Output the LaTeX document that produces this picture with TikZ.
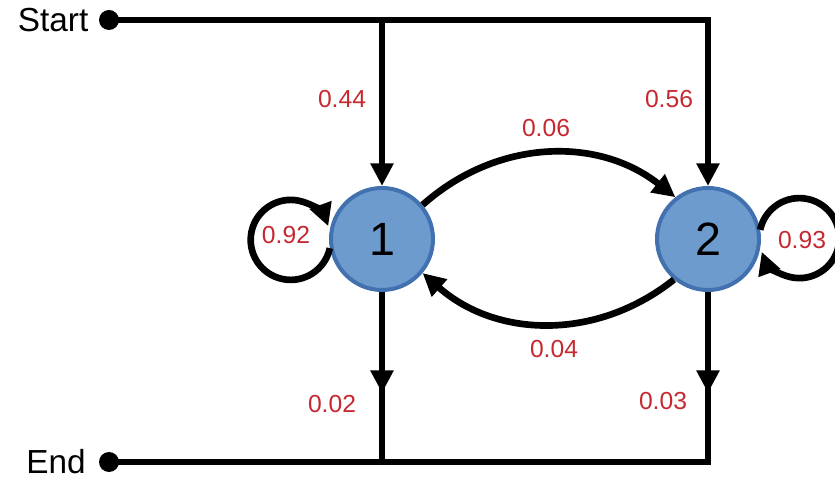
\documentclass[tikz,border=0pt]{standalone}
\usepackage{fontspec}
\setmainfont{Liberation Sans}
\usetikzlibrary{arrows.meta,positioning}
\definecolor{stateblue}{RGB}{110,155,206}
\definecolor{stateedge}{RGB}{66,113,176}
\definecolor{probred}{RGB}{198,40,48}

\begin{document}
\begin{tikzpicture}[x=0.75pt,y=0.75pt,line width=5pt,
	>={Triangle[length=17pt,width=16.5pt]},
	state/.style={circle,draw=stateedge,fill=stateblue,line width=3pt,minimum size=76.5pt,inner sep=0pt,font=\fontsize{35}{35}\selectfont},
	dot/.style={circle,fill=black,minimum size=15pt,inner sep=0pt,outer sep=0pt},
	prob/.style={text=probred,inner sep=0pt,font=\fontsize{18.5}{18.5}\selectfont},
	term/.style={inner sep=0pt,outer sep=0pt,font=\fontsize{25}{25}\selectfont}]
				\useasboundingbox (0,0) rectangle (835,478);
				
				\node[state] (s1) at (382,239) {1};
				\node[state] (s2) at (708,239) {2};
				
				\node[dot] (start) at (109,458) {};
				\node[dot] (end) at (109,16) {};
				\node[term,left=8pt of start] (startlbl) {Start};
				\node[term,left=10pt of end] (endlbl) {End};
				
				\coordinate (t1) at (382,458);
				\coordinate (t2) at (708,458);
				\coordinate (m1) at (382,85);
				\coordinate (m2) at (708,85);
				\coordinate (b1) at (382,16);
				\coordinate (b2) at (708,16);
				
				\draw[->] (start.center) -- (t2) -- (s2);
				\draw[->] (t1) -- (s1);
				
				\draw (s1) -- (b1);
				\draw[->] (s1) -- (m1);
				\draw (s2) -- (b2) -- (end.center);
				\draw[->] (s2) -- (m2);
				
				\draw[->] (s1.40) to[bend left=40] (s2.128);
				\draw[->] (s2.230) to[bend left=40] (s1.320);
				
				\draw[->] (s1.190) arc[start angle=-12, end angle=-340, radius=40];
				\draw[->] (s2.10) arc[start angle=168, end angle=-160, radius=40];
				
				\node[prob] (p11) at (286,243) {0.92};
				\node[prob] (p22) at (802,238) {0.93};
				\node[prob] (p01) at (342,379) {0.44};
				\node[prob] (p02) at (669,379) {0.56};
				\node[prob] (p12) at (546,350) {0.06};
				\node[prob] (p21) at (554,129) {0.04};
				\node[prob] (p1e) at (332,74) {0.02};
				\node[prob] (p2e) at (663,77) {0.03};
\end{tikzpicture}
\end{document}
